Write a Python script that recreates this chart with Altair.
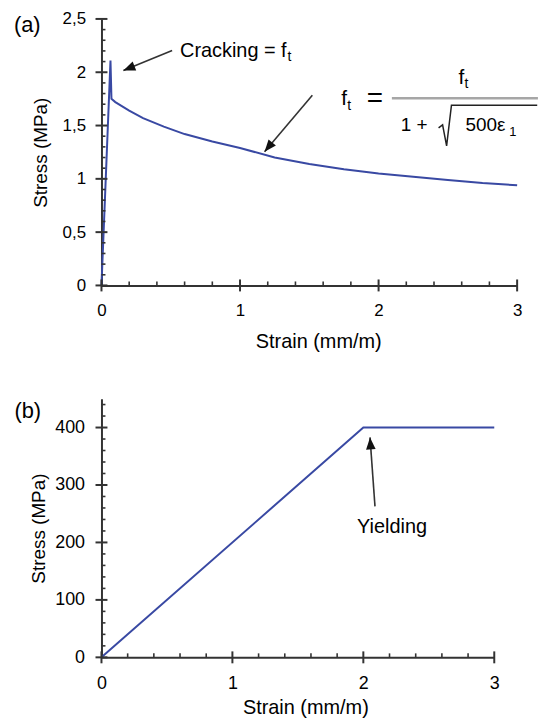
import altair as alt
import pandas as pd

# ---------------- data ----------------
# (a) concrete in tension
strain_a = [0, 0.065, 0.072, 0.1, 0.2, 0.3, 0.45, 0.6, 0.8, 1.0, 1.25, 1.5, 1.75, 2.0, 2.25, 2.5, 2.75, 3.0]
stress_a = [0, 2.11, 1.75, 1.72, 1.64, 1.57, 1.49, 1.42, 1.35, 1.29, 1.20, 1.14, 1.09, 1.05, 1.02, 0.99, 0.96, 0.94]
# (b) steel
strain_b = [0, 2, 3]
stress_b = [0, 400, 400]

# tick values
x_major = [0, 1, 2, 3]
x_minor = [0.2, 0.4, 0.6, 0.8, 1.2, 1.4, 1.6, 1.8, 2.2, 2.4, 2.6, 2.8]
ya_major = [0, 0.5, 1, 1.5, 2, 2.5]
ya_minor = [0.1, 0.2, 0.3, 0.4, 0.6, 0.7, 0.8, 0.9, 1.1, 1.2, 1.3, 1.4,
            1.6, 1.7, 1.8, 1.9, 2.1, 2.2, 2.3, 2.4]
yb_major = [0, 100, 200, 300, 400]
yb_minor = [20, 40, 60, 80, 120, 140, 160, 180, 220, 240, 260, 280,
            320, 340, 360, 380, 420, 440]

# ---------------- styles ----------------
BLUE = "#3949a3"
AX = "#333333"
INK = "#111111"
FONT = "Liberation Sans"
HEAD = "M0,0L-0.8,2L0.8,2Z"   # arrow head, tip at the anchor point


def panel(strain, stress, xdom, ydom, xmaj, xmin, ymaj, ymin, xaxis, yaxis):
    xs = alt.Scale(domain=xdom, nice=False, zero=False)
    ys = alt.Scale(domain=ydom, nice=False, zero=False)

    def X(f):
        return alt.X(f, type="quantitative", scale=xs, axis=xaxis)

    def Y(f):
        return alt.Y(f, type="quantitative", scale=ys, axis=yaxis)

    layers = []
    df = pd.DataFrame({"strain": strain, "stress": stress})
    layers.append(alt.Chart(df).mark_line(color=BLUE, strokeWidth=2).encode(x=X("strain"), y=Y("stress")))

    # x-axis ticks: majors cross the axis, minors point inward
    tx = pd.DataFrame({"v": xmaj, "b": [ydom[0]] * len(xmaj)})
    layers.append(alt.Chart(tx).mark_rule(color=AX, strokeWidth=2, yOffset=6, y2Offset=-6).encode(
        x=X("v"), y=Y("b"), y2="b"))
    tx2 = pd.DataFrame({"v": xmin, "b": [ydom[0]] * len(xmin)})
    layers.append(alt.Chart(tx2).mark_rule(color=AX, strokeWidth=1.6, y2Offset=-4).encode(
        x=X("v"), y=Y("b"), y2="b"))
    # y-axis ticks
    ty = pd.DataFrame({"v": ymaj, "b": [xdom[0]] * len(ymaj)})
    layers.append(alt.Chart(ty).mark_rule(color=AX, strokeWidth=2, xOffset=-6, x2Offset=6).encode(
        y=Y("v"), x=X("b"), x2="b"))
    ty2 = pd.DataFrame({"v": ymin, "b": [xdom[0]] * len(ymin)})
    layers.append(alt.Chart(ty2).mark_rule(color=AX, strokeWidth=1.6, x2Offset=4).encode(
        y=Y("v"), x=X("b"), x2="b"))

    def text(t, x, y, size, align="left", baseline="alphabetic", color="#000000"):
        d = pd.DataFrame({"ax": [x], "ay": [y], "t": [t]})
        layers.append(alt.Chart(d).mark_text(
            font=FONT, fontSize=size, align=align, baseline=baseline, fill=color, color=color
        ).encode(x=X("ax"), y=Y("ay"), text="t:N"))

    def arrow(x0, y0, x1, y1, angle):
        d = pd.DataFrame({"ax": [x0], "ay": [y0], "bx": [x1], "by": [y1]})
        layers.append(alt.Chart(d).mark_rule(color="#333333", strokeWidth=1.6).encode(
            x=X("ax"), y=Y("ay"), x2="bx", y2="by"))
        layers.append(alt.Chart(d).mark_point(
            shape=HEAD, filled=True, size=144, angle=angle, color=INK, opacity=1
        ).encode(x=X("bx"), y=Y("by")))

    def rule(x0, x1, y, color, width):
        d = pd.DataFrame({"ax": [x0], "bx": [x1], "ay": [y]})
        layers.append(alt.Chart(d).mark_rule(color=color, strokeWidth=width).encode(
            x=X("ax"), x2="bx", y=Y("ay")))

    def path(xv, yv, color, width):
        d = pd.DataFrame({"ax": xv, "ay": yv, "i": list(range(len(xv)))})
        layers.append(alt.Chart(d).mark_line(color=color, strokeWidth=width).encode(
            x=X("ax"), y=Y("ay"), order="i:Q"))

    return layers, text, arrow, rule, path


AXCOMMON = dict(labelFlush=False, labelOverlap=False, titleFontWeight="normal",
                domain=True, domainColor=AX, domainWidth=2, ticks=False,
                labelFont=FONT, titleFont=FONT, labelColor="#000000", titleColor="#000000",
                grid=False)

# ---------------- panel (a) ----------------
ax_x_a = alt.Axis(values=x_major, title="Strain (mm/m)", labelPadding=17, titlePadding=13,
                  titleX=218, labelFontSize=17, titleFontSize=20, **AXCOMMON)
ax_y_a = alt.Axis(values=ya_major, title="Stress (MPa)", labelPadding=16, titlePadding=12,
                  labelExpr="replace(format(datum.value, '~g'), '.', ',')",
                  labelFontSize=17, titleFontSize=19, **AXCOMMON)

layers_a, text_a, arrow_a, rule_a, path_a = panel(
    strain_a, stress_a, [0, 3], [0, 2.5], x_major, x_minor, ya_major, ya_minor, ax_x_a, ax_y_a)

text_a("(a)", -0.632, 2.375, 22)
arrow_a(0.510, 2.203, 0.158, 2.017, 248)
text_a("Cracking = f", 0.567, 2.147, 20)
text_a("t", 1.342, 2.110, 14)
arrow_a(1.522, 1.784, 1.177, 1.255, 220)
# formula  f_t = f_t / (1 + sqrt(500 e1))
text_a("f", 1.730, 1.691, 21)
text_a("t", 1.773, 1.645, 14)
text_a("=", 1.974, 1.745, 28, align="center", baseline="middle")
rule_a(2.096, 3.15, 1.757, "#a6a6a6", 2.5)
text_a("f", 2.577, 1.887, 21)
text_a("t", 2.620, 1.849, 14)
text_a("1 +", 2.160, 1.450, 19)
path_a([2.433, 2.462, 2.491, 2.526, 3.145], [1.478, 1.506, 1.310, 1.691, 1.691], "#222222", 1.5)
text_a("500\u03b5", 2.627, 1.450, 19)
text_a("1", 2.943, 1.403, 13)

chart_a = alt.layer(*layers_a).properties(width=418, height=268)

# ---------------- panel (b) ----------------
ax_x_b = alt.Axis(values=x_major, title="Strain (mm/m)", labelPadding=17, titlePadding=5,
                  titleX=205, labelFontSize=18, titleFontSize=20, **AXCOMMON)
ax_y_b = alt.Axis(values=yb_major, title="Stress (MPa)", labelPadding=17, titlePadding=6,
                  labelFontSize=18, titleFontSize=19, **AXCOMMON)

layers_b, text_b, arrow_b, rule_b, path_b = panel(
    strain_b, stress_b, [0, 3], [0, 450], x_major, x_minor, yb_major, yb_minor, ax_x_b, ax_y_b)

text_b("(b)", -0.665, 416.5, 22)
arrow_b(2.089, 262.7, 2.051, 382.8, 356)
text_b("Yielding", 1.952, 216.3, 20)

chart_b = alt.layer(*layers_b).properties(width=395, height=260)

chart = alt.vconcat(chart_a, chart_b, spacing=48).properties(
    padding={"left": 5, "top": 0, "right": 0, "bottom": 0},
    background="white",
).configure_view(stroke=None)

chart.save("out.html", embed_options={"renderer": "svg", "actions": False})
